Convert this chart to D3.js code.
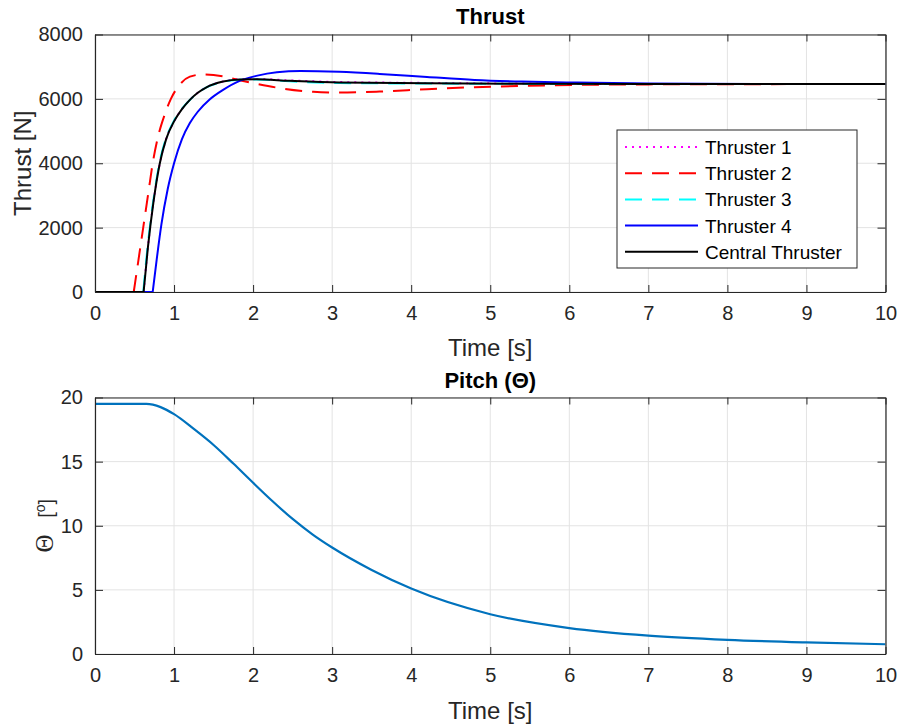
<!DOCTYPE html>
<html>
<head>
<meta charset="utf-8">
<script src="https://cdn.jsdelivr.net/npm/d3@7"></script>
<style>
  body { margin: 0; background: #fff; }
  text { font-family: "Liberation Sans", Arial, sans-serif; fill: #262626; }
  .axis text { font-size: 20px; }
  .axis path, .axis line { stroke: #262626; }
</style>
</head>
<body>
<div id="chart"></div>
<script>
// time ticks shared by both plots
var timeTicks = [0, 1, 2, 3, 4, 5, 6, 7, 8, 9, 10];
var thrustTicks = [0, 2000, 4000, 6000, 8000];
var pitchTicks = [0, 5, 10, 15, 20];

// thruster 1 (magenta dotted)
var t1Time = [0, 0.615, 0.67, 0.74, 0.82, 0.9, 1.0, 1.1, 1.2, 1.3, 1.41, 1.62, 1.83, 2.04, 2.46, 3.09, 4.2, 5.5, 7, 10];
var t1Val  = [0, 0, 1400, 2800, 4000, 4750, 5300, 5680, 5970, 6190, 6362, 6540, 6612, 6620, 6574, 6522, 6496, 6475, 6463, 6460];
// thruster 2 (red dashed)
var t2Time = [0, 0.49, 0.55, 0.61, 0.67, 0.73, 0.8, 0.88, 0.96, 1.07, 1.2, 1.37, 1.62, 1.83, 2.04, 2.3, 2.76, 3.09, 3.6, 4.2, 4.8, 5.4, 6.1, 7, 8.5, 10];
var t2Val  = [0, 0, 1000, 2000, 3000, 4000, 4850, 5500, 6000, 6434, 6690, 6760, 6700, 6580, 6470, 6350, 6220, 6195, 6226, 6300, 6362, 6403, 6434, 6450, 6458, 6460];
// thruster 3 (cyan dashed)
var t3Time = [0, 0.61, 0.665, 0.735, 0.815, 0.895, 0.995, 1.095, 1.2, 1.3, 1.41, 1.62, 1.83, 2.04, 2.46, 3.09, 4.2, 5.5, 7, 10];
var t3Val  = [0, 0, 1400, 2800, 4000, 4750, 5300, 5680, 5965, 6185, 6355, 6530, 6598, 6600, 6545, 6490, 6476, 6466, 6461, 6460];
// thruster 4 (blue)
var t4Time = [0, 0.73, 0.78, 0.84, 0.92, 1.0, 1.1, 1.2, 1.3, 1.45, 1.62, 1.83, 2.04, 2.3, 2.6, 3.09, 3.6, 4.2, 4.8, 5.4, 6.1, 7, 8.5, 10];
var t4Val  = [0, 0, 1000, 2100, 3200, 4000, 4750, 5250, 5600, 5980, 6278, 6558, 6714, 6829, 6865, 6839, 6776, 6680, 6589, 6537, 6506, 6480, 6465, 6460];
// central thruster (black)
var ctTime = [0, 0.615, 0.67, 0.74, 0.82, 0.9, 1.0, 1.1, 1.2, 1.3, 1.41, 1.62, 1.83, 2.04, 2.46, 3.09, 4.2, 5.5, 7, 10];
var ctVal  = [0, 0, 1400, 2800, 4000, 4750, 5300, 5680, 5970, 6190, 6360, 6537, 6605, 6610, 6560, 6506, 6486, 6470, 6462, 6460];

// pitch angle
var pitchTime = [0, 0.3, 0.65, 0.83, 1, 1.25, 1.5, 1.75, 2, 2.25, 2.5, 2.75, 3, 3.5, 4, 5, 6, 7, 8, 9, 10];
var pitchVal  = [19.5, 19.5, 19.5, 19.25, 18.7, 17.55, 16.3, 14.85, 13.35, 11.89, 10.53, 9.33, 8.3, 6.55, 5.1, 3.1, 2.02, 1.43, 1.1, 0.9, 0.76];

var thrusters = [
  {name: "Thruster 1", time: t1Time, val: t1Val, color: "#ff00ff", dash: "2,5"},
  {name: "Thruster 2", time: t2Time, val: t2Val, color: "#ff0000", dash: "17,10"},
  {name: "Thruster 3", time: t3Time, val: t3Val, color: "#00ffff", dash: "17,10"},
  {name: "Thruster 4", time: t4Time, val: t4Val, color: "#0000ff", dash: null},
  {name: "Central Thruster", time: ctTime, val: ctVal, color: "#000000", dash: null}
];

const W = 899, H = 725;
const svg = d3.select("#chart")
  .append("svg")
  .attr("width", W)
  .attr("height", H);

function drawGrid(box, yScale, yTicks, xScale, id) {
  const g = svg.append("g");

  g.selectAll(".vgrid").data(timeTicks).join("line")
    .attr("x1", d => xScale(d)).attr("x2", d => xScale(d))
    .attr("y1", box.top).attr("y2", box.bottom)
    .attr("stroke", "#e3e3e3").attr("stroke-width", 1);
  g.selectAll(".hgrid").data(yTicks).join("line")
    .attr("x1", box.left).attr("x2", box.right)
    .attr("y1", d => yScale(d)).attr("y2", d => yScale(d))
    .attr("stroke", "#e3e3e3").attr("stroke-width", 1);

  // a bit of slack so lines lying on the frame are not cut in half
  svg.append("clipPath").attr("id", id)
    .append("rect")
    .attr("x", box.left).attr("y", box.top - 1.5)
    .attr("width", box.right - box.left).attr("height", box.bottom - box.top + 3);
}

function drawFrame(box, yScale, yTicks, xScale) {
  // ticks point inwards, on all four sides
  svg.append("g").attr("class", "axis")
    .attr("transform", `translate(0,${box.bottom})`)
    .call(d3.axisBottom(xScale).tickValues(timeTicks).tickSize(-7).tickSizeOuter(0).tickPadding(14));
  svg.append("g").attr("class", "axis")
    .attr("transform", `translate(0,${box.top})`)
    .call(d3.axisTop(xScale).tickValues(timeTicks).tickSize(-7).tickSizeOuter(0).tickFormat(""));
  svg.append("g").attr("class", "axis")
    .attr("transform", `translate(${box.left},0)`)
    .call(d3.axisLeft(yScale).tickValues(yTicks).tickSize(-8).tickSizeOuter(0).tickPadding(12).tickFormat(d3.format("d")));
  svg.append("g").attr("class", "axis")
    .attr("transform", `translate(${box.right},0)`)
    .call(d3.axisRight(yScale).tickValues(yTicks).tickSize(-8).tickSizeOuter(0).tickFormat(""));
  svg.selectAll(".axis .domain").attr("stroke-width", 1.2);
}

function drawThrust() {
  const box = {left: 95, right: 885.5, top: 34.5, bottom: 292};
  const xScale = d3.scaleLinear().domain([0, 10]).range([box.left, box.right]);
  const yScale = d3.scaleLinear().domain([0, 8000]).range([box.bottom, box.top]);

  drawGrid(box, yScale, thrustTicks, xScale, "clipTop");

  const flat = d3.line()
    .x(d => xScale(d[0]))
    .y(d => yScale(d[1]));
  const smooth = d3.line()
    .x(d => xScale(d[0]))
    .y(d => yScale(d[1]))
    .curve(d3.curveMonotoneX);

  // zero part is straight, the response after the switch-on is smooth
  function pathOf(d) {
    const pts = d.time.map((t, i) => [t, d.val[i]]);
    const k = d.val.findIndex((v, i) => i > 0 && v > 0) - 1;
    return flat(pts.slice(0, k + 1)) + smooth(pts.slice(k));
  }

  svg.append("g").attr("clip-path", "url(#clipTop)")
    .selectAll("path")
    .data(thrusters)
    .join("path")
    .attr("fill", "none")
    .attr("stroke", d => d.color)
    .attr("stroke-width", 2)
    .attr("stroke-dasharray", d => d.dash)
    .attr("d", pathOf);

  drawFrame(box, yScale, thrustTicks, xScale);

  // title and labels
  svg.append("text")
    .attr("x", (box.left + box.right) / 2).attr("y", 24)
    .attr("text-anchor", "middle")
    .style("font-size", "22px").style("font-weight", "bold").style("fill", "#000")
    .text("Thrust");
  svg.append("text")
    .attr("x", (box.left + box.right) / 2).attr("y", 356)
    .attr("text-anchor", "middle")
    .style("font-size", "24px")
    .text("Time [s]");
  svg.append("text")
    .attr("transform", `translate(31,${(box.top + box.bottom) / 2}) rotate(-90)`)
    .attr("text-anchor", "middle")
    .style("font-size", "24px")
    .text("Thrust [N]");

  // legend
  const lg = svg.append("g");
  lg.append("rect")
    .attr("x", 617).attr("y", 130).attr("width", 240).attr("height", 138)
    .attr("fill", "#fff").attr("stroke", "#262626").attr("stroke-width", 1);
  const rows = lg.selectAll(".row").data(thrusters).join("g")
    .attr("transform", (d, i) => `translate(0,${147 + i * 26.2})`);
  rows.append("line")
    .attr("x1", 625).attr("x2", 698).attr("y1", 0).attr("y2", 0)
    .attr("stroke", d => d.color).attr("stroke-width", 2)
    .attr("stroke-dasharray", d => d.dash);
  rows.append("text")
    .attr("x", 705).attr("y", 7)
    .style("font-size", "19px").style("fill", "#000")
    .text(d => d.name);
}

function drawPitch() {
  const box = {left: 95, right: 885.5, top: 397.5, bottom: 654};
  const xScale = d3.scaleLinear().domain([0, 10]).range([box.left, box.right]);
  const yScale = d3.scaleLinear().domain([0, 20]).range([box.bottom, box.top]);

  drawGrid(box, yScale, pitchTicks, xScale, "clipBottom");

  const line = d3.line()
    .x((d, i) => xScale(pitchTime[i]))
    .y(d => yScale(d))
    .curve(d3.curveMonotoneX);

  svg.append("g").attr("clip-path", "url(#clipBottom)")
    .append("path")
    .attr("fill", "none")
    .attr("stroke", "#0072bd")
    .attr("stroke-width", 2.2)
    .attr("d", line(pitchVal));

  drawFrame(box, yScale, pitchTicks, xScale);

  const title = svg.append("text")
    .attr("x", (box.left + box.right) / 2).attr("y", 388)
    .attr("text-anchor", "middle")
    .style("font-size", "22px").style("font-weight", "bold").style("fill", "#000");
  title.append("tspan").text("Pitch (");
  title.append("tspan").text("Θ");
  title.append("tspan").text(")");

  svg.append("text")
    .attr("x", (box.left + box.right) / 2).attr("y", 719)
    .attr("text-anchor", "middle")
    .style("font-size", "24px")
    .text("Time [s]");

  const yl = svg.append("text")
    .attr("transform", `translate(53,${(box.top + box.bottom) / 2}) rotate(-90)`)
    .attr("text-anchor", "middle")
    .style("font-size", "20px");
  yl.append("tspan").style("font-family", "'Liberation Serif', serif").style("font-size", "25px").text("Θ");
  yl.append("tspan").text("\u00a0\u00a0\u00a0[");
  yl.append("tspan").attr("baseline-shift", "super").style("font-size", "14px").text("o");
  yl.append("tspan").text("]");
}

drawThrust();
drawPitch();
</script>
</body>
</html>
